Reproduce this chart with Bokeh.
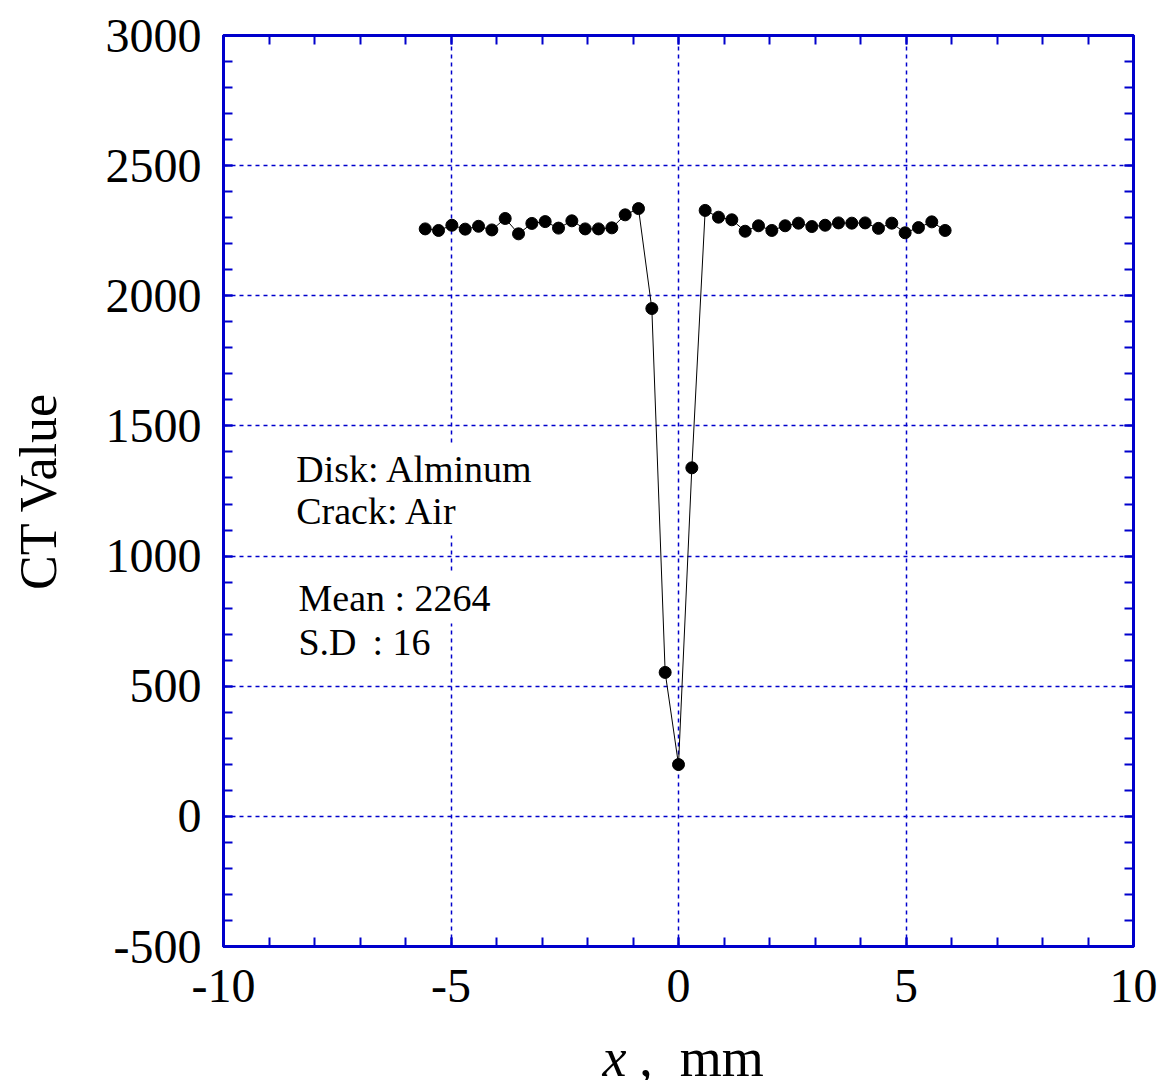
from bokeh.plotting import figure
from bokeh.layouts import column
from bokeh.models import (Range1d, LinearAxis, SingleIntervalTicker, Label, ColumnDataSource)
from bokeh.core.properties import value
from bokeh.embed import file_html
from bokeh.resources import INLINE

# ---- data ----
x_mm = [-5.567, -5.274, -4.981, -4.688, -4.395, -4.102, -3.809, -3.516, -3.223, -2.930,
        -2.637, -2.344, -2.051, -1.758, -1.465, -1.172, -0.879, -0.586, -0.293, 0.0,
        0.293, 0.586, 0.879, 1.172, 1.465, 1.758, 2.051, 2.344, 2.637, 2.930,
        3.223, 3.516, 3.809, 4.102, 4.395, 4.688, 4.981, 5.274, 5.567, 5.860]
ct_value = [2257, 2251, 2271, 2256, 2267, 2253, 2297, 2238, 2278, 2285,
            2260, 2288, 2257, 2257, 2261, 2311, 2335, 1951, 553, 199,
            1339, 2328, 2302, 2292, 2248, 2269, 2251, 2269, 2279, 2266,
            2271, 2280, 2279, 2280, 2259, 2279, 2242, 2262, 2284, 2251]
notes_top = ["Disk: Alminum", "Crack: Air"]
notes_bottom = ["Mean : 2264", "S.D\u2006 : 16"]
x_title_italic = ["x"]
x_title_rest = [",\u00a0 mm"]
y_title = "CT Value"
x_tick_text = {-10: "-10", -5: "-5", 0: "0", 5: "5", 10: "10"}
y_tick_text = {-500: "-500", 0: "0", 500: "500", 1000: "1000", 1500: "1500",
               2000: "2000", 2500: "2500", 3000: "3000"}

BLUE = "#0000CC"
FONT = "Liberation Serif"
W = 1158

p = figure(width=W, height=1030, output_backend="svg", toolbar_location=None,
           x_range=Range1d(-10, 10), y_range=Range1d(-500, 3000),
           min_border_left=223, min_border_top=35, min_border_right=W - 1133, min_border_bottom=84,
           x_axis_location=None, y_axis_location=None)
p.background_fill_color = "white"
p.border_fill_color = "white"
p.outline_line_color = BLUE
p.outline_line_width = 3

def style_axis(ax, ticker, show_labels):
    ax.ticker = ticker
    ax.axis_line_color = BLUE
    ax.axis_line_width = 3
    ax.major_tick_line_color = BLUE
    ax.minor_tick_line_color = BLUE
    ax.major_tick_line_width = 2
    ax.minor_tick_line_width = 2
    ax.major_tick_in = 9
    ax.major_tick_out = 0
    ax.minor_tick_in = 9
    ax.minor_tick_out = 0
    ax.major_label_text_font = FONT
    ax.major_label_text_color = "black"
    if show_labels:
        ax.major_label_text_font_size = "48px"
    else:
        ax.major_label_text_alpha = 0
        ax.major_label_text_font_size = "10px"

xt = SingleIntervalTicker(interval=5, num_minor_ticks=5)
yt = SingleIntervalTicker(interval=500, num_minor_ticks=5)

xb = LinearAxis(); style_axis(xb, xt, True); xb.major_label_standoff = 23
xb.major_label_overrides = x_tick_text
xa = LinearAxis(); style_axis(xa, xt, False)
yl = LinearAxis(); style_axis(yl, yt, True); yl.major_label_standoff = 22
yl.major_label_overrides = y_tick_text
yr = LinearAxis(); style_axis(yr, yt, False)
yl.axis_label = y_title
yl.axis_label_text_font = FONT
yl.axis_label_text_font_size = "52px"
yl.axis_label_text_font_style = "normal"
yl.axis_label_text_color = "black"
yl.axis_label_standoff = 36

p.add_layout(xb, "below")
p.add_layout(xa, "above")
p.add_layout(yl, "left")
p.add_layout(yr, "right")

p.xgrid.ticker = xt
p.ygrid.ticker = yt
for g in (p.xgrid, p.ygrid):
    g.grid_line_color = BLUE
    g.grid_line_dash = "4 4"
    g.grid_line_width = 1.5

src = ColumnDataSource(dict(x=x_mm, y=ct_value))
p.line("x", "y", source=src, line_color="black", line_width=1)
p.scatter("x", "y", source=src, size=12, fill_color="black", line_color="black")

def note(txt, x, y):
    lab = Label(x=x, y=y, text=txt, text_font=FONT, text_font_size="38px",
                text_color="black", text_baseline="alphabetic",
                background_fill_color="white", padding=4)
    p.add_layout(lab)

note(notes_top[0], -8.49, 1333)
note(notes_top[1], -8.49, 1175)
note(notes_bottom[0], -8.44, 837)
note(notes_bottom[1], -8.44, 668)

# x-axis title strip (mixed italic / roman text)
p2 = figure(width=W, height=50, output_backend="svg", toolbar_location=None,
            x_range=p.x_range, y_range=Range1d(0, 50),
            min_border_left=223, min_border_right=W - 1133, min_border_top=0, min_border_bottom=0,
            x_axis_location=None, y_axis_location=None)
p2.outline_line_color = None
p2.xgrid.visible = False
p2.ygrid.visible = False
p2.text(x=[-1.67], y=[23], text=x_title_italic, text_font=value(FONT), text_font_size="54px",
        text_font_style="italic", text_color="black", text_baseline="alphabetic")
p2.text(x=[-0.86], y=[23], text=x_title_rest, text_font=value(FONT), text_font_size="54px",
        text_color="black", text_baseline="alphabetic")

layout = column(p, p2, spacing=0)
open("out.html", "w").write(file_html(layout, INLINE))
